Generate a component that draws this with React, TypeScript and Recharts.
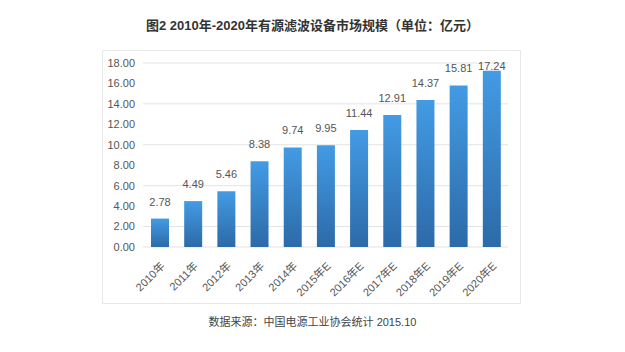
import React from 'react';
import { BarChart, Bar, XAxis, YAxis, CartesianGrid, LabelList } from 'recharts';

const years = ['2010年', '2011年', '2012年', '2013年', '2014年', '2015年E', '2016年E', '2017年E', '2018年E', '2019年E', '2020年E'];
const marketSize = [2.78, 4.49, 5.46, 8.38, 9.74, 9.95, 11.44, 12.91, 14.37, 15.81, 17.24];
const yTicks = [0, 2, 4, 6, 8, 10, 12, 14, 16, 18];

const title = '图2 2010年-2020年有源滤波设备市场规模（单位：亿元）';
const source = '数据来源：中国电源工业协会统计 2015.10';

const FONT = '"Liberation Sans", Arial, "Noto Sans CJK SC", sans-serif';

const chartData = years.map((year, i) => ({ year, value: marketSize[i] }));

// rotated category labels, anchored at the end
const RotatedTick = (props: any) => {
  const { x, y, payload } = props;
  return (
    <g transform={`translate(${x + 3},${y + 9})`}>
      <text transform="rotate(-45)" textAnchor="end" dy={4} fontSize={11} fill="#555" fontFamily={FONT}>
        {payload.value}
      </text>
    </g>
  );
};

// value label above each bar, kept inside the plot at the top
const ValueLabel = (props: any) => {
  const { x, y, width, value } = props;
  const ty = Math.max(y - 13, 70);
  return (
    <text x={x + width / 2} y={ty} textAnchor="middle" fontSize={11} fill="#555" fontFamily={FONT}>
      {Number(value).toFixed(2)}
    </text>
  );
};

export default function App() {
  return (
    <div style={{ position: 'absolute', left: 0, top: 0, width: 625, height: 352, background: '#fff', fontFamily: FONT }}>
      <div style={{ position: 'absolute', top: 15, left: 0, width: 625, textAlign: 'center', fontSize: 13, fontWeight: 'bold', color: '#333' }}>
        {title}
      </div>
      <div style={{ position: 'absolute', left: 102, top: 50, width: 417, height: 252, border: '1px solid #e8e8e8' }} />
      <div style={{ position: 'absolute', top: 313, left: 0, width: 625, textAlign: 'center', fontSize: 11, color: '#444' }}>
        {source}
      </div>
      <div style={{ position: 'absolute', left: 0, top: 0 }}>
        <BarChart width={625} height={352} data={chartData} margin={{ top: 63, right: 117, bottom: 0, left: 83 }}>
          <defs>
            <linearGradient id="barFill" x1="0" y1="0" x2="0" y2="1">
              <stop offset="0%" stopColor="#439be4" />
              <stop offset="100%" stopColor="#2c6aa8" />
            </linearGradient>
          </defs>
          <CartesianGrid vertical={false} stroke="#e3e3e3" />
          <XAxis dataKey="year" axisLine={false} tickLine={false} interval={0} height={105} tick={<RotatedTick />} />
          <YAxis
            domain={[0, 18]}
            ticks={yTicks}
            axisLine={false}
            tickLine={false}
            width={60}
            tickFormatter={(v: number) => v.toFixed(2)}
            tick={{ fontSize: 11, fill: '#555', fontFamily: FONT }}
          />
          <Bar dataKey="value" fill="url(#barFill)" barSize={18} isAnimationActive={false}>
            <LabelList dataKey="value" content={<ValueLabel />} />
          </Bar>
        </BarChart>
      </div>
    </div>
  );
}
